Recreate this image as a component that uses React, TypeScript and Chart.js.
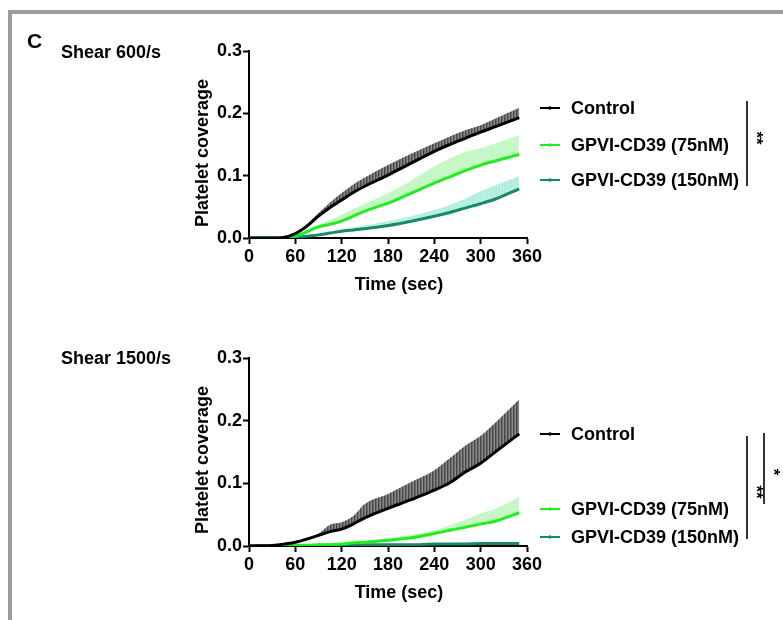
import React, { useEffect, useRef } from "react";
import { Chart, registerables } from "chart.js";

Chart.register(...registerables);

// ---------- data ----------
const TIMES = [0, 30, 45, 60, 75, 90, 105, 120, 135, 150, 180, 210, 240, 260, 280, 300, 320, 350];
const X_TICKS = [0, 60, 120, 180, 240, 300, 360];
const Y_TICKS = [0, 0.1, 0.2, 0.3];
const SERIES_LABELS = ["Control", "GPVI-CD39 (75nM)", "GPVI-CD39 (150nM)"];

// Shear 600/s (mean and mean+SEM)
const S600_CONTROL = [0, 0, 0.001, 0.007, 0.019, 0.035, 0.049, 0.061, 0.073, 0.083, 0.101, 0.12, 0.139, 0.15, 0.16, 0.17, 0.179, 0.193];
const S600_CONTROL_UP = [0, 0, 0.001, 0.008, 0.022, 0.04, 0.057, 0.072, 0.086, 0.097, 0.117, 0.135, 0.152, 0.163, 0.173, 0.181, 0.192, 0.209];
const S600_75 = [0, 0, 0, 0.003, 0.01, 0.018, 0.022, 0.027, 0.035, 0.043, 0.056, 0.072, 0.088, 0.098, 0.108, 0.117, 0.124, 0.134];
const S600_75_UP = [0, 0, 0, 0.004, 0.012, 0.021, 0.029, 0.037, 0.046, 0.055, 0.072, 0.092, 0.115, 0.127, 0.138, 0.144, 0.152, 0.165];
const S600_150 = [0, 0, 0, 0.001, 0.003, 0.005, 0.008, 0.011, 0.013, 0.015, 0.02, 0.027, 0.035, 0.041, 0.048, 0.055, 0.063, 0.079];
const S600_150_UP = [0, 0, 0, 0.001, 0.004, 0.007, 0.01, 0.014, 0.017, 0.02, 0.027, 0.035, 0.045, 0.053, 0.063, 0.075, 0.085, 0.099];

// Shear 1500/s
const S1500_CONTROL = [0, 0.001, 0.003, 0.006, 0.011, 0.017, 0.023, 0.027, 0.035, 0.045, 0.06, 0.074, 0.089, 0.101, 0.118, 0.132, 0.151, 0.179];
const S1500_CONTROL_UP = [0, 0.001, 0.003, 0.007, 0.013, 0.02, 0.034, 0.038, 0.048, 0.067, 0.083, 0.102, 0.121, 0.14, 0.16, 0.176, 0.198, 0.234];
const S1500_75 = [0, 0, 0, 0.001, 0.001, 0.002, 0.002, 0.003, 0.005, 0.006, 0.009, 0.013, 0.02, 0.025, 0.03, 0.035, 0.04, 0.053];
const S1500_75_UP = [0, 0, 0, 0.001, 0.001, 0.002, 0.003, 0.004, 0.006, 0.007, 0.012, 0.018, 0.025, 0.033, 0.042, 0.052, 0.06, 0.078];
const S1500_150 = [0, 0, 0, 0, 0, 0.001, 0.001, 0.001, 0.001, 0.002, 0.002, 0.002, 0.003, 0.003, 0.003, 0.004, 0.004, 0.004];
const S1500_150_UP = [0, 0, 0, 0, 0.001, 0.001, 0.001, 0.002, 0.002, 0.003, 0.003, 0.003, 0.004, 0.004, 0.005, 0.005, 0.006, 0.006];

// ---------- styles ----------
const FONT = "'Liberation Sans', Arial, Helvetica, sans-serif";
const FS = 18;
const LINE_COLORS = ["#000000", "#1fee1f", "#178a6c"];
const BAND_STRIPES = [
  ["#474747", "#6a6a6a", "#8a8a8a"],
  ["#c8f7c8", "#c2f5c2", "#cbf8cb"],
  ["#b6efe0", "#afece0", "#bcf1e4"],
];

function makePattern(colors: string[]) {
  const c = document.createElement("canvas");
  c.width = colors.length;
  c.height = 4;
  const g = c.getContext("2d")!;
  colors.forEach((col, i) => {
    g.fillStyle = col;
    g.fillRect(i, 0, 1, 4);
  });
  return g.createPattern(c, "repeat")!;
}

const pts = (ys: number[]) => TIMES.map((t, i) => ({ x: t, y: ys[i] }));

const decorPlugin = {
  id: "decor",
  afterDraw(chart: any, _a: any, opts: any) {
    const ctx = chart.ctx as CanvasRenderingContext2D;
    ctx.save();
    ctx.font = `bold ${FS}px ${FONT}`;
    ctx.textBaseline = "middle";
    // legend
    SERIES_LABELS.forEach((label, i) => {
      const y = opts.legendY[i];
      const x = opts.legendX;
      ctx.strokeStyle = LINE_COLORS[i];
      ctx.lineWidth = 2;
      ctx.beginPath();
      ctx.moveTo(x, y);
      ctx.lineTo(x + 20, y);
      ctx.stroke();
      ctx.fillStyle = LINE_COLORS[i];
      ctx.beginPath();
      ctx.arc(x + 10, y, 1.8, 0, Math.PI * 2);
      ctx.fill();
      ctx.fillStyle = "#000";
      ctx.textAlign = "left";
      ctx.fillText(label, x + 31, y + 1);
    });
    // brackets
    opts.brackets.forEach((b: any) => {
      ctx.strokeStyle = "#000";
      ctx.lineWidth = 1.6;
      ctx.beginPath();
      ctx.moveTo(b.x, b.y1);
      ctx.lineTo(b.x, b.y2);
      ctx.stroke();
      ctx.save();
      ctx.translate(b.x + 9, b.labelY);
      ctx.rotate(Math.PI / 2);
      ctx.font = `bold 17px ${FONT}`;
      ctx.textAlign = "center";
      ctx.fillStyle = "#000";
      ctx.fillText(b.label, 0, 0);
      ctx.restore();
    });
    // axis titles
    ctx.fillStyle = "#000";
    ctx.font = `bold ${FS}px ${FONT}`;
    ctx.textAlign = "center";
    ctx.fillText("Time (sec)", opts.xTitle[0], opts.xTitle[1]);
    ctx.save();
    ctx.translate(opts.yTitle[0], opts.yTitle[1]);
    ctx.rotate(-Math.PI / 2);
    ctx.fillText("Platelet coverage", 0, 0);
    ctx.restore();
    ctx.restore();
  },
};

function buildConfig(series: number[][][], pad: { top: number; bottom: number }, decor: any) {
  const datasets: any[] = [];
  series.forEach(([mean, up], i) => {
    datasets.push({
      label: SERIES_LABELS[i] + " SEM",
      data: pts(up),
      borderWidth: 0,
      pointRadius: 0,
      backgroundColor: makePattern(BAND_STRIPES[i]),
      fill: { target: i * 2 + 1 },
      cubicInterpolationMode: "monotone",
      order: 10 + i,
    });
    datasets.push({
      label: SERIES_LABELS[i],
      data: pts(mean),
      borderColor: LINE_COLORS[i],
      borderWidth: 3,
      pointRadius: 0,
      fill: false,
      cubicInterpolationMode: "monotone",
      order: i,
    });
  });
  return {
    type: "line",
    data: { datasets },
    plugins: [decorPlugin],
    options: {
      animation: false,
      responsive: false,
      devicePixelRatio: 1,
      layout: { padding: { left: 189, right: 256, top: pad.top, bottom: pad.bottom } },
      plugins: {
        legend: { display: false },
        tooltip: { enabled: false },
        filler: { drawTime: "beforeDatasetsDraw" },
        decor,
      },
      scales: {
        x: {
          type: "linear",
          min: 0,
          max: 360,
          afterFit: (s: any) => {
            s.height = 40;
          },
          afterBuildTicks: (s: any) => {
            s.ticks = X_TICKS.map((v) => ({ value: v }));
          },
          grid: { drawOnChartArea: false, drawTicks: true, tickLength: 6, tickWidth: 2, tickColor: "#000" },
          border: { display: true, color: "#000", width: 2 },
          ticks: { color: "#000", padding: 2, maxRotation: 0, font: { family: FONT, size: FS, weight: "bold" } },
        },
        y: {
          type: "linear",
          min: 0,
          max: 0.3,
          afterFit: (s: any) => {
            s.width = 60;
          },
          afterBuildTicks: (s: any) => {
            s.ticks = Y_TICKS.map((v) => ({ value: v }));
          },
          grid: { drawOnChartArea: false, drawTicks: true, tickLength: 6, tickWidth: 2, tickColor: "#000" },
          border: { display: true, color: "#000", width: 2 },
          ticks: {
            color: "#000",
            padding: 1,
            font: { family: FONT, size: FS, weight: "bold" },
            callback: (v: number) => v.toFixed(1),
          },
        },
      },
    },
  };
}

function ChartCanvas({ series, pad, decor, top }: any) {
  const ref = useRef<HTMLCanvasElement>(null);
  useEffect(() => {
    const chart = new Chart(ref.current!, buildConfig(series, pad, decor) as any);
    return () => chart.destroy();
  }, []);
  return (
    <canvas
      ref={ref}
      width={783}
      height={310}
      style={{ position: "absolute", left: 0, top, width: 783, height: 310 }}
    />
  );
}

const textStyle = (left: number, cy: number, size: number): React.CSSProperties => ({
  position: "absolute",
  left,
  top: cy - size / 2,
  fontFamily: FONT,
  fontWeight: "bold",
  fontSize: size,
  lineHeight: `${size}px`,
  color: "#000",
  whiteSpace: "nowrap",
});

export default function App() {
  return (
    <div style={{ position: "absolute", left: 0, top: 0, width: 783, height: 620, overflow: "hidden", background: "#fff" }}>
      <div
        style={{
          position: "absolute",
          left: 8,
          top: 10,
          width: 780,
          height: 700,
          borderTop: "4px solid #9c9c9c",
          borderLeft: "4px solid #9c9c9c",
        }}
      />
      <ChartCanvas
        top={0}
        series={[
          [S600_CONTROL, S600_CONTROL_UP],
          [S600_75, S600_75_UP],
          [S600_150, S600_150_UP],
        ]}
        pad={{ top: 51, bottom: 32 }}
        decor={{
          legendX: 540,
          legendY: [108, 145, 180],
          brackets: [{ x: 747, y1: 101, y2: 186, label: "**", labelY: 138 }],
          xTitle: [399, 285],
          yTitle: [203, 153],
        }}
      />
      <ChartCanvas
        top={310}
        series={[
          [S1500_CONTROL, S1500_CONTROL_UP],
          [S1500_75, S1500_75_UP],
          [S1500_150, S1500_150_UP],
        ]}
        pad={{ top: 48, bottom: 34 }}
        decor={{
          legendX: 540,
          legendY: [124, 199, 227],
          brackets: [
            { x: 747, y1: 126, y2: 229, label: "**", labelY: 182 },
            { x: 764, y1: 123, y2: 194, label: "*", labelY: 162 },
          ],
          xTitle: [399, 283],
          yTitle: [203, 150],
        }}
      />
      <div style={textStyle(27, 40, 21)}>C</div>
      <div style={textStyle(61, 52, 18)}>Shear 600/s</div>
      <div style={textStyle(61, 358, 18)}>Shear 1500/s</div>
    </div>
  );
}
